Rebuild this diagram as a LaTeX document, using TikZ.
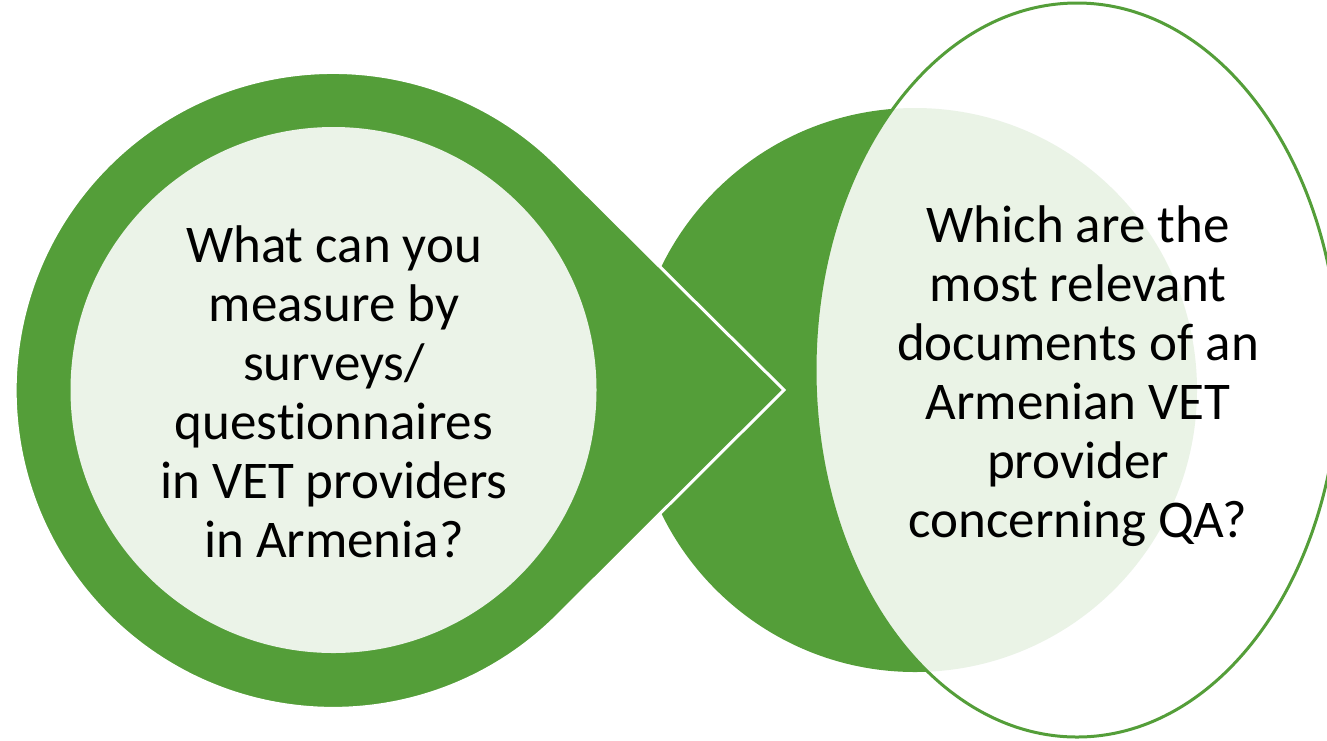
\documentclass[tikz,border=0pt]{standalone}
\usepackage{fontspec}
\setmainfont{Carlito}[Ligatures=NoCommon]
\definecolor{leaf}{RGB}{84,158,57}
\definecolor{pale}{RGB}{235,243,232}
\tikzset{
  qtext/.style={align=center, text=black, font=\fontsize{53}{59}\selectfont, inner sep=0pt},
  greenfill/.style={fill=leaf, draw=none},
}
\begin{document}
\begin{tikzpicture}[x=1pt,y=-1pt]
\useasboundingbox (0,0) rectangle (1327,740);
% right green circle
\path[greenfill] (915,390) circle[radius=282];
% left teardrop
\path[fill=leaf, draw=white, line width=3pt, line join=miter]
  (784,390) -- (556.4,164.0) arc[start angle=-45.4, end angle=-314.6, radius=318] -- cycle;
% inner pale disc
\path[fill=pale] (333.5,390) circle[radius=263];
% large ellipse
\path[fill=white, fill opacity=0.88, draw=leaf, draw opacity=1, line width=3pt]
  (1077,370) ellipse[x radius=262, y radius=367];
% texts
\node[qtext] (left) at (334,392) {What can you\\measure by\\surveys/\\questionnaires\\in VET providers\\in Armenia?};
\node[qtext] (right) at (1078,376) {Which are the\\most relevant\\documents of an\\Armenian VET\\provider\\concerning QA?};
\end{tikzpicture}
\end{document}
